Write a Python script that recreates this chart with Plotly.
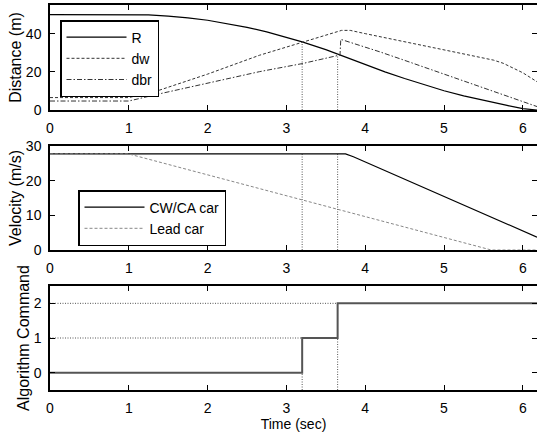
import numpy as np
import plotly.graph_objects as go

# ---------------- data ----------------
event_times = [3.2, 3.65]          # algorithm command switches (0->1, 1->2)

t_R = [0, 0.5, 1.0, 1.25, 1.5, 1.75, 2.0, 2.25, 2.5, 2.75, 3.0, 3.2, 3.5, 3.65,
       3.75, 4.0, 4.25, 4.5, 4.75, 5.0, 5.25, 5.5, 5.65, 5.8, 6.0, 6.18]
R = [50.0, 50.0, 49.9, 49.8, 49.2, 48.3, 47.0, 45.3, 43.3, 40.9, 38.2, 35.7, 31.6, 29.3,
     27.7, 23.7, 20.0, 16.5, 13.2, 10.1, 7.4, 5.0, 3.7, 2.4, 0.7, 0.0]

t_dw = [0, 1.0, 1.36, 2.0, 2.66, 3.2, 3.7, 3.81, 4.0, 5.0, 5.63, 5.75, 6.0, 6.18]
dw = [6.5, 6.5, 10.0, 18.8, 28.7, 35.3, 41.7, 41.7, 40.0, 31.5, 26.1, 24.5, 19.5, 14.8]

t_dbr = [0, 1.0, 1.36, 2.0, 2.66, 3.2, 3.68, 3.69, 4.0, 4.19, 4.5, 5.0, 5.16, 5.5, 6.0, 6.18]
dbr = [4.7, 4.7, 8.2, 13.9, 20.1, 24.3, 28.8, 37.0, 33.0, 30.4, 26.0, 18.8, 16.5, 11.6, 4.4, 1.8]

t_cw = [0, 3.75, 3.85, 4.0, 5.0, 6.0, 6.18]
v_cw = [27.7, 27.7, 26.9, 25.4, 15.5, 5.5, 3.7]

t_lead = [0, 1.0, 5.6, 6.18]
v_lead = [27.7, 27.7, 0.0, 0.0]

t_cmd = [0, 3.2, 3.65, 6.18]
cmd = [0, 1, 2, 2]

x_ticks = [0, 1, 2, 3, 4, 5, 6]
y1_ticks = [0, 20, 40]
y2_ticks = [0, 10, 20, 30]
y3_ticks = [0, 1, 2]

# ---------------- figure ----------------
W, H = 537, 435
FONT = "Liberation Sans, Arial, Helvetica, sans-serif"
XMAX = 6.18
fig = go.Figure()

DOT = "1px,1.5px"
REF = "#555555"

# top panel
fig.add_trace(go.Scatter(x=t_R, y=R, mode="lines", name="R",
                         line=dict(color="black", width=1.2), xaxis="x", yaxis="y",
                         legend="legend"))
fig.add_trace(go.Scatter(x=t_dw, y=dw, mode="lines", name="dw",
                         line=dict(color="#333333", width=1, dash="3px,2px"),
                         xaxis="x", yaxis="y", legend="legend"))
fig.add_trace(go.Scatter(x=t_dbr, y=dbr, mode="lines", name="dbr",
                         line=dict(color="#333333", width=1, dash="5px,2px,1.5px,2px"),
                         xaxis="x", yaxis="y", legend="legend"))
R_at = np.interp(event_times, t_R, R)
for te, re in zip(event_times, R_at):
    fig.add_trace(go.Scatter(x=[te, te], y=[0, re], mode="lines", showlegend=False,
                             line=dict(color=REF, width=1, dash=DOT), xaxis="x", yaxis="y"))

# middle panel
v_at = np.interp(event_times, t_cw, v_cw)
for te, ve in zip(event_times, v_at):
    fig.add_trace(go.Scatter(x=[te, te], y=[0, ve], mode="lines", showlegend=False,
                             line=dict(color=REF, width=1, dash=DOT), xaxis="x2", yaxis="y2"))
fig.add_trace(go.Scatter(x=t_cw, y=v_cw, mode="lines", name="CW/CA car",
                         line=dict(color="black", width=1.2), xaxis="x2", yaxis="y2",
                         legend="legend2"))
fig.add_trace(go.Scatter(x=t_lead, y=v_lead, mode="lines", name="Lead car",
                         line=dict(color="#888888", width=1, dash="3px,2px"),
                         xaxis="x2", yaxis="y2", legend="legend2"))

# bottom panel: dotted guides
y3_min = -0.5
for te, level_before, level_after in zip(event_times, cmd[:2], cmd[1:3]):
    fig.add_trace(go.Scatter(x=[0, te], y=[level_after, level_after], mode="lines",
                             showlegend=False, line=dict(color=REF, width=1, dash=DOT),
                             xaxis="x3", yaxis="y3"))
    fig.add_trace(go.Scatter(x=[te, te], y=[y3_min, level_before], mode="lines",
                             showlegend=False, line=dict(color=REF, width=1, dash=DOT),
                             xaxis="x3", yaxis="y3"))
fig.add_trace(go.Scatter(x=t_cmd, y=cmd, mode="lines", line_shape="hv", showlegend=False,
                         line=dict(color="#555555", width=2), xaxis="x3", yaxis="y3"))

def xax(anchor, title=None):
    d = dict(range=[0, XMAX], domain=[50 / W, 1], anchor=anchor,
             tickvals=x_ticks, ticks="inside", ticklen=5, tickwidth=1, tickcolor="black",
             showline=True, linecolor="black", linewidth=1.5, mirror="ticks",
             showgrid=False, zeroline=False, tickfont=dict(size=14, color="black"),
             ticklabelstandoff=4, automargin=False)
    if title:
        d["title"] = dict(text=title, font=dict(size=14, color="black"), standoff=4)
    return d

def yax(anchor, rng, ticks, dom, title):
    return dict(range=rng, domain=dom, anchor=anchor, tickvals=ticks,
                ticks="inside", ticklen=5, tickwidth=1, tickcolor="black",
                showline=True, linecolor="black", linewidth=1.5, mirror="ticks",
                showgrid=False, zeroline=False, tickfont=dict(size=14, color="black"),
                ticklabelstandoff=4, automargin=False,
                title=dict(text=title, font=dict(size=16, color="black"), standoff=0))

def ydom(top_px, bot_px):
    return [1 - bot_px / H, 1 - top_px / H]

fig.update_layout(
    width=W, height=H,
    margin=dict(l=0, r=0, t=0, b=0),
    paper_bgcolor="white", plot_bgcolor="white",
    font=dict(family=FONT, size=14, color="black"),
    xaxis=xax("y"),
    yaxis=yax("x", [0, 55], y1_ticks, ydom(5, 110), "Distance (m)"),
    xaxis2=xax("y2"),
    yaxis2=yax("x2", [0, 30], y2_ticks, ydom(146, 250), "Velocity (m/s)"),
    xaxis3=xax("y3", title="Time (sec)"),
    yaxis3=yax("x3", [-0.5, 2.5], y3_ticks, ydom(286, 390), "Algorithm Command"),
    legend=dict(x=60 / W, y=1 - 20 / H, xanchor="left", yanchor="top",
                bgcolor="white", bordercolor="black", borderwidth=1.5,
                font=dict(size=14, color="black"), itemwidth=60, tracegroupgap=0),
    legend2=dict(x=78 / W, y=1 - 218 / H, xanchor="left", yanchor="middle",
                 bgcolor="white", bordercolor="black", borderwidth=1.5,
                 font=dict(size=14, color="black"), itemwidth=60, tracegroupgap=0),
    showlegend=True,
)

fig.write_html("out.html", config={"displayModeBar": False},
               post_script="document.body.style.margin='0';document.body.style.overflow='hidden';")
